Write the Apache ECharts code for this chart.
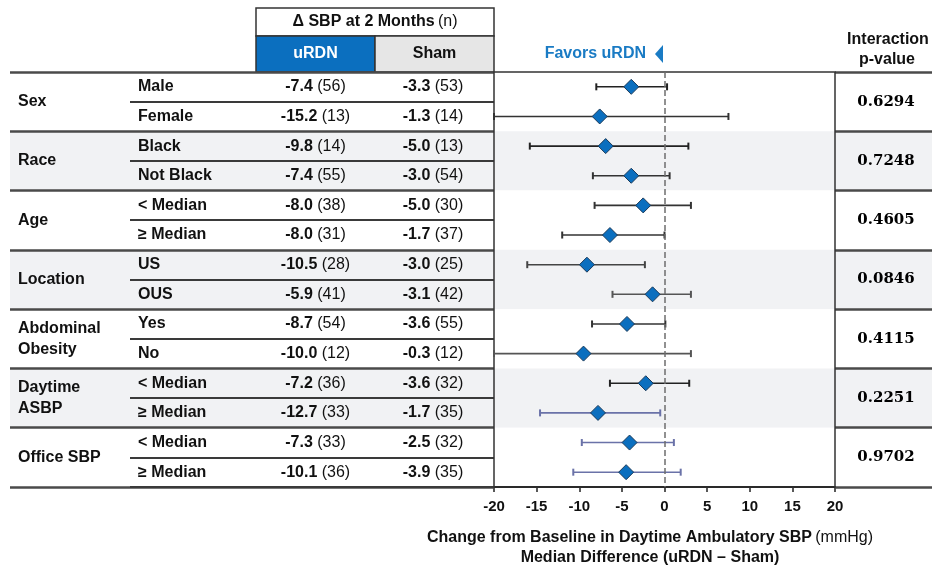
<!DOCTYPE html>
<html>
<head>
<meta charset="utf-8">
<script src="https://cdn.jsdelivr.net/npm/echarts@6/dist/echarts.min.js"></script>
<style>
  html, body { margin: 0; padding: 0; background: #fff; }
  #chart { width: 932px; height: 567px; }
</style>
</head>
<body>
<div id="chart"></div>
<script>
// Subgroup forest plot: change in daytime ambulatory SBP, uRDN vs Sham
const groups = ['Sex', 'Race', 'Age', 'Location', 'Abdominal\nObesity', 'Daytime\nASBP', 'Office SBP'];
const subgroups = ['Male', 'Female', 'Black', 'Not Black', '< Median', '≥ Median', 'US', 'OUS',
                   'Yes', 'No', '< Median', '≥ Median', '< Median', '≥ Median'];
const urdnChange = [-7.4, -15.2, -9.8, -7.4, -8.0, -8.0, -10.5, -5.9, -8.7, -10.0, -7.2, -12.7, -7.3, -10.1];
const urdnN = [56, 13, 14, 55, 38, 31, 28, 41, 54, 12, 36, 33, 33, 36];
const shamChange = [-3.3, -1.3, -5.0, -3.0, -5.0, -1.7, -3.0, -3.1, -3.6, -0.3, -3.6, -1.7, -2.5, -3.9];
const shamN = [53, 14, 13, 54, 30, 37, 25, 42, 55, 12, 32, 35, 32, 35];
const medianDiff = [-3.9, -7.6, -6.9, -3.9, -2.5, -6.4, -9.1, -1.4, -4.4, -9.5, -2.2, -7.8, -4.1, -4.5];
const ciLow = [-8.0, -20.0, -15.8, -8.4, -8.2, -12.0, -16.1, -6.1, -8.5, -20.0, -6.4, -14.6, -9.7, -10.7];
const ciHigh = [0.3, 7.5, 2.8, 0.6, 3.1, 0.0, -2.3, 3.1, 0.1, 3.1, 2.9, -0.5, 1.1, 1.9];
const pValues = ['0.6294', '0.7248', '0.4605', '0.0846', '0.4115', '0.2251', '0.9702'];
const xMin = -20, xMax = 20, xStep = 5;

// Styling
const FONT = '"Liberation Sans", Arial, Helvetica, sans-serif';
const INK = '#111';
const BLUE = '#0b6fbf';
const ciColors = ['#222', '#333', '#222', '#333', '#333', '#333', '#444', '#555',
                  '#333', '#555', '#222', '#6a72a8', '#6a72a8', '#6a72a8'];

const rowIds = subgroups.map((_, i) => String(i));
const TOP = 72, HEIGHT = 415;

function gridAt(left, width, extra) {
  return Object.assign({ left: left, top: TOP, width: width, height: HEIGHT }, extra || {});
}
function hiddenX(gridIndex) {
  return { type: 'value', gridIndex: gridIndex, show: false, min: 0, max: 1 };
}
const baseLabel = { interval: 0, fontFamily: FONT, fontSize: 16, fontWeight: 'bold', color: INK };
const valueRich = {
  b: { fontFamily: FONT, fontSize: 16, fontWeight: 'bold', color: INK },
  n: { fontFamily: FONT, fontSize: 16, fontWeight: 'normal', color: INK }
};
const fmtCell = (v, n) => `{b|${v.toFixed(1)}} {n|(${n})}`;

const chart = echarts.init(document.getElementById('chart'), null, { renderer: 'canvas' });

const option = {
  animation: false,
  backgroundColor: '#fff',
  grid: [
    gridAt(494, 341, { show: true, borderColor: '#333', borderWidth: 1.5, backgroundColor: 'transparent', z: 3 }), // 0 forest
    gridAt(10, 484),   // 1 group labels
    gridAt(130, 364),  // 2 subgroup labels
    gridAt(256, 119),  // 3 uRDN column
    gridAt(375, 119),  // 4 Sham column
    gridAt(835, 97),   // 5 p-values
    gridAt(10, 922)    // 6 row banding
  ],
  xAxis: [
    {
      type: 'value', gridIndex: 0, min: xMin, max: xMax, interval: xStep,
      axisLine: { show: true, lineStyle: { color: '#111', width: 2 } },
      axisTick: { show: true, inside: false, length: 5, lineStyle: { color: '#222', width: 1.5 } },
      axisLabel: { fontFamily: FONT, fontSize: 15, fontWeight: 'bold', color: INK, margin: 12 },
      splitLine: { show: false }
    },
    hiddenX(1), hiddenX(2), hiddenX(3), hiddenX(4), hiddenX(5), hiddenX(6)
  ],
  yAxis: [
    { // 0 forest rows
      type: 'category', gridIndex: 0, inverse: true, data: rowIds,
      axisLine: { show: false }, axisTick: { show: false }, axisLabel: { show: false }, splitLine: { show: false }
    },
    { // 1 group names + group separators
      type: 'category', gridIndex: 1, inverse: true, data: groups, z: 2,
      axisLine: { show: false }, axisTick: { show: false },
      axisLabel: Object.assign({}, baseLabel, { align: 'left', margin: -8, lineHeight: 21 }),
      splitLine: { show: true, lineStyle: { color: '#4a4a4a', width: 2.5 } }
    },
    { // 2 subgroup names + row separators within a group
      type: 'category', gridIndex: 2, inverse: true, data: rowIds, z: 2,
      axisLine: { show: false }, axisTick: { show: false },
      axisLabel: Object.assign({}, baseLabel, { align: 'left', margin: -8, formatter: v => subgroups[+v] }),
      splitLine: { show: true, interval: i => i % 2 === 1, lineStyle: { color: '#3a3a3a', width: 1.8 } }
    },
    { // 3 uRDN change (n)
      type: 'category', gridIndex: 3, inverse: true, data: rowIds, z: 2,
      axisLine: { show: false }, axisTick: { show: false }, splitLine: { show: false },
      axisLabel: Object.assign({}, baseLabel, {
        align: 'center', margin: -59.5, rich: valueRich,
        formatter: v => fmtCell(urdnChange[+v], urdnN[+v])
      })
    },
    { // 4 Sham change (n)
      type: 'category', gridIndex: 4, inverse: true, data: rowIds, z: 2,
      axisLine: { show: false }, axisTick: { show: false }, splitLine: { show: false },
      axisLabel: Object.assign({}, baseLabel, {
        align: 'center', margin: -58, rich: valueRich,
        formatter: v => fmtCell(shamChange[+v], shamN[+v])
      })
    },
    { // 5 interaction p-values
      type: 'category', gridIndex: 5, inverse: true, data: pValues, z: 2,
      axisLine: { show: false }, axisTick: { show: false },
      axisLabel: { interval: 0, align: 'center', margin: -51, fontFamily: '"DejaVu Serif", "Liberation Serif", serif',
                   fontSize: 15, fontWeight: 'bold', color: '#000' },
      splitLine: { show: true, lineStyle: { color: '#4a4a4a', width: 2.5 } }
    },
    { // 6 alternating group shading
      type: 'category', gridIndex: 6, inverse: true, data: groups, z: 0,
      axisLine: { show: false }, axisTick: { show: false }, axisLabel: { show: false },
      splitLine: { show: false },
      splitArea: { show: true, areaStyle: { color: ['#ffffff', '#f1f2f4'] } }
    }
  ],
  series: [
    {
      name: 'CI',
      type: 'custom',
      xAxisIndex: 0, yAxisIndex: 0, z: 4,
      data: subgroups.map((_, i) => [ciLow[i], ciHigh[i], i]),
      encode: { x: [0, 1], y: 2 },
      renderItem: function (params, api) {
        const row = api.value(2);
        const lo = api.coord([api.value(0), row]);
        const hi = api.coord([api.value(1), row]);
        const c = ciColors[params.dataIndex];
        const h = 3.5;
        return {
          type: 'group',
          children: [
            { type: 'line', shape: { x1: lo[0], y1: lo[1], x2: hi[0], y2: hi[1] }, style: { stroke: c, lineWidth: 1.6 } },
            { type: 'line', shape: { x1: lo[0], y1: lo[1] - h, x2: lo[0], y2: lo[1] + h }, style: { stroke: c, lineWidth: 2 } },
            { type: 'line', shape: { x1: hi[0], y1: hi[1] - h, x2: hi[0], y2: hi[1] + h }, style: { stroke: c, lineWidth: 2 } }
          ]
        };
      }
    },
    {
      name: 'Median difference',
      type: 'scatter',
      xAxisIndex: 0, yAxisIndex: 0, z: 5,
      symbol: 'diamond', symbolSize: 15,
      itemStyle: { color: BLUE, borderColor: '#1c3b5a', borderWidth: 1, opacity: 1 },
      data: medianDiff.map((d, i) => [d, i]),
      markLine: {
        silent: true, symbol: ['none', 'none'], label: { show: false },
        lineStyle: { color: '#6e6e6e', type: 'dashed', width: 1.5 },
        data: [{ xAxis: 0 }]
      }
    }
  ],
  graphic: [
    // column header box
    { type: 'rect', shape: { x: 256, y: 8, width: 238, height: 28 }, style: { fill: '#fff', stroke: '#333', lineWidth: 1.5 } },
    { type: 'rect', shape: { x: 256, y: 36, width: 119, height: 36 }, style: { fill: BLUE, stroke: '#333', lineWidth: 1.5 } },
    { type: 'rect', shape: { x: 375, y: 36, width: 119, height: 36 }, style: { fill: '#e6e6e6', stroke: '#333', lineWidth: 1.5 } },
    { type: 'text', x: 375, y: 22, style: {
        text: '{b|Δ SBP at 2 Months} {n|(n)}', align: 'center', verticalAlign: 'middle',
        rich: { b: { fontFamily: FONT, fontSize: 16, fontWeight: 'bold', fill: INK },
                n: { fontFamily: FONT, fontSize: 16, fontWeight: 'normal', fill: INK } } } },
    { type: 'text', x: 315.5, y: 54, style: { text: 'uRDN', align: 'center', verticalAlign: 'middle',
        font: 'bold 16px ' + FONT, fill: '#fff' } },
    { type: 'text', x: 434.5, y: 54, style: { text: 'Sham', align: 'center', verticalAlign: 'middle',
        font: 'bold 16px ' + FONT, fill: INK } },
    // favours annotation
    { type: 'text', x: 646, y: 54, style: { text: 'Favors uRDN', align: 'right', verticalAlign: 'middle',
        font: 'bold 16px ' + FONT, fill: '#1a7bc4' } },
    { type: 'polygon', shape: { points: [[663, 45], [655, 54], [663, 63]] }, style: { fill: '#1a7bc4' } },
    // p-value header
    { type: 'text', x: 888, y: 40, style: { text: 'Interaction', align: 'center', verticalAlign: 'middle',
        font: 'bold 16px ' + FONT, fill: INK } },
    { type: 'text', x: 887, y: 60, style: { text: 'p-value', align: 'center', verticalAlign: 'middle',
        font: 'bold 16px ' + FONT, fill: INK } },
    // x-axis title
    { type: 'text', x: 650, y: 538, style: {
        text: '{b|Change from Baseline in Daytime Ambulatory SBP} {n|(mmHg)}', align: 'center', verticalAlign: 'middle',
        rich: { b: { fontFamily: FONT, fontSize: 16, fontWeight: 'bold', fill: INK },
                n: { fontFamily: FONT, fontSize: 16, fontWeight: 'normal', fill: INK } } } },
    { type: 'text', x: 650, y: 558, style: { text: 'Median Difference (uRDN – Sham)', align: 'center', verticalAlign: 'middle',
        font: 'bold 16px ' + FONT, fill: INK } }
  ]
};

chart.setOption(option);
</script>
</body>
</html>
